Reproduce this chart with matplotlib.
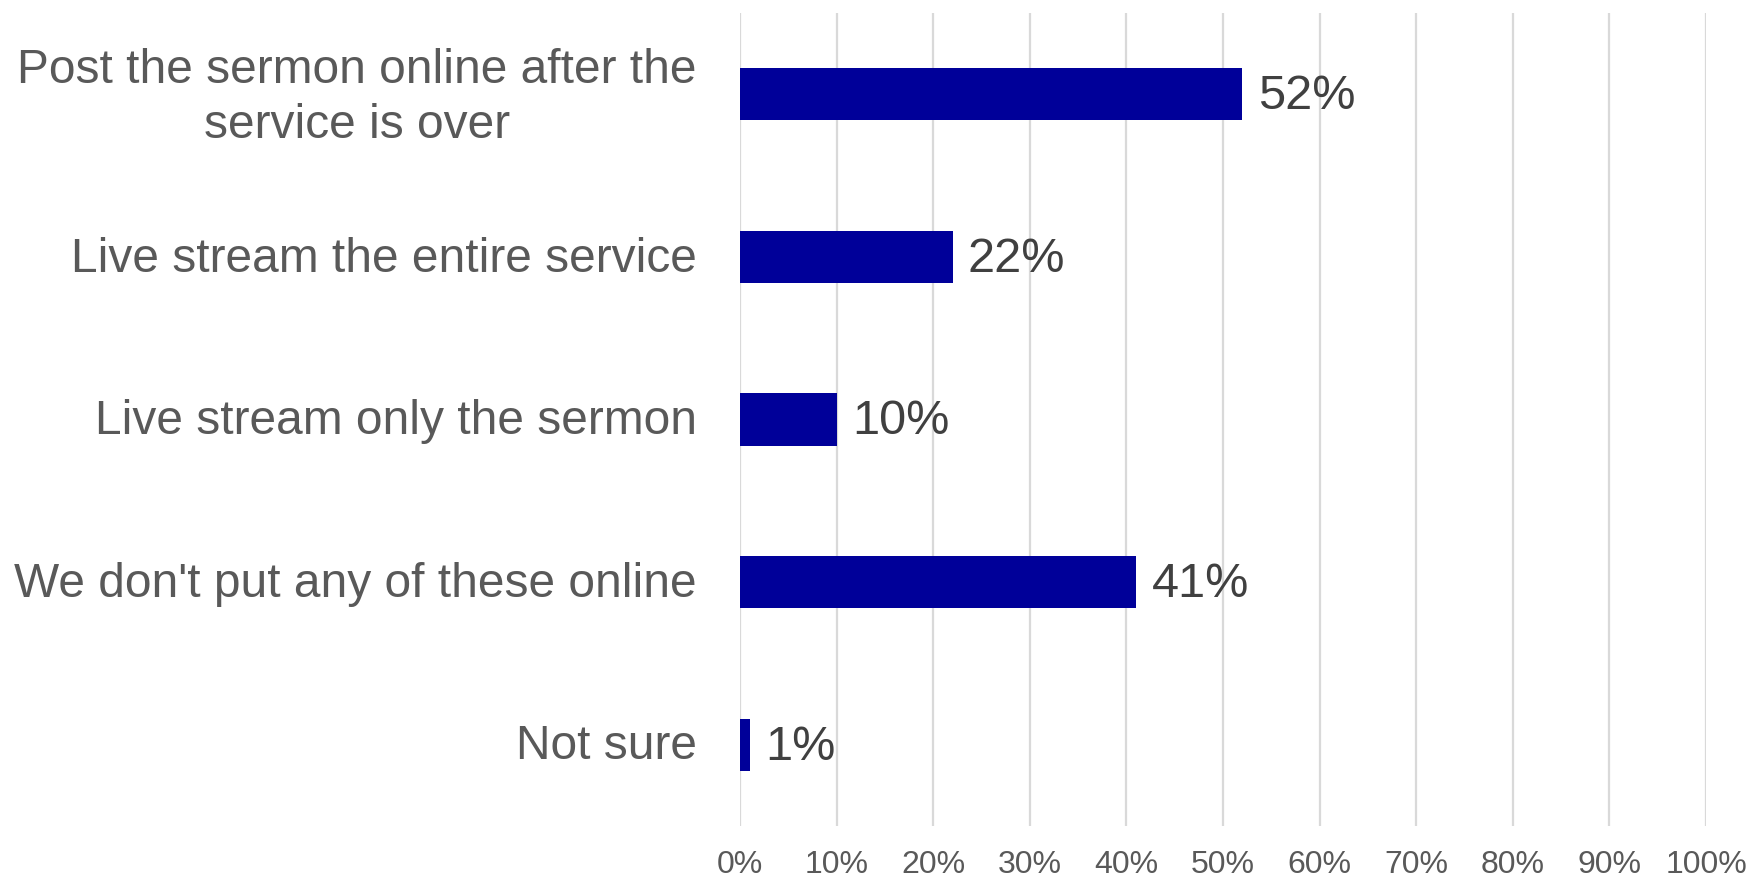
import matplotlib
matplotlib.use('Agg')
import matplotlib.pyplot as plt
from matplotlib.ticker import MultipleLocator, PercentFormatter

categories = ['Post the sermon online after the\nservice is over',
              'Live stream the entire service',
              'Live stream only the sermon',
              "We don't put any of these online",
              'Not sure']
values = [52, 22, 10, 41, 1]

plt.rcParams['font.family'] = ['Liberation Sans', 'DejaVu Sans']

fig = plt.figure(figsize=(17.5, 8.77), dpi=100)
ax = fig.add_axes([740 / 1750, 1 - 826 / 877, 966 / 1750, 813 / 877])

y = list(range(len(categories)))
ax.barh(y, values, height=0.32, color='#000099', zorder=3)
for yi, v in zip(y, values):
    ax.text(v + 1.6, yi + 0.015, '%d%%' % v, va='center', ha='left',
            fontsize=35, color='#404040')

ax.set_xlim(0, 100)
ax.set_ylim(len(categories) - 0.5, -0.5)
ax.xaxis.set_major_locator(MultipleLocator(10))
ax.xaxis.set_major_formatter(PercentFormatter(decimals=0))
# labels sit a touch above the bar centre, the two-line one a bit more
lab_pos = [yi - (0.04 if '\n' in c else 0.017) for yi, c in zip(y, categories)]
ax.set_yticks(lab_pos)
ax.set_yticklabels(categories, fontsize=34.5, color='#595959',
                   multialignment='center', linespacing=1.28)
ax.tick_params(axis='x', labelsize=23, labelcolor='#595959', length=0, pad=17)
ax.tick_params(axis='y', length=0, pad=31)
ax.grid(axis='x', color='#d9d9d9', linewidth=1.6, zorder=0)
ax.grid(axis='y', visible=False)
for s in ax.spines.values():
    s.set_visible(False)

fig.savefig('out.png', dpi=100)
